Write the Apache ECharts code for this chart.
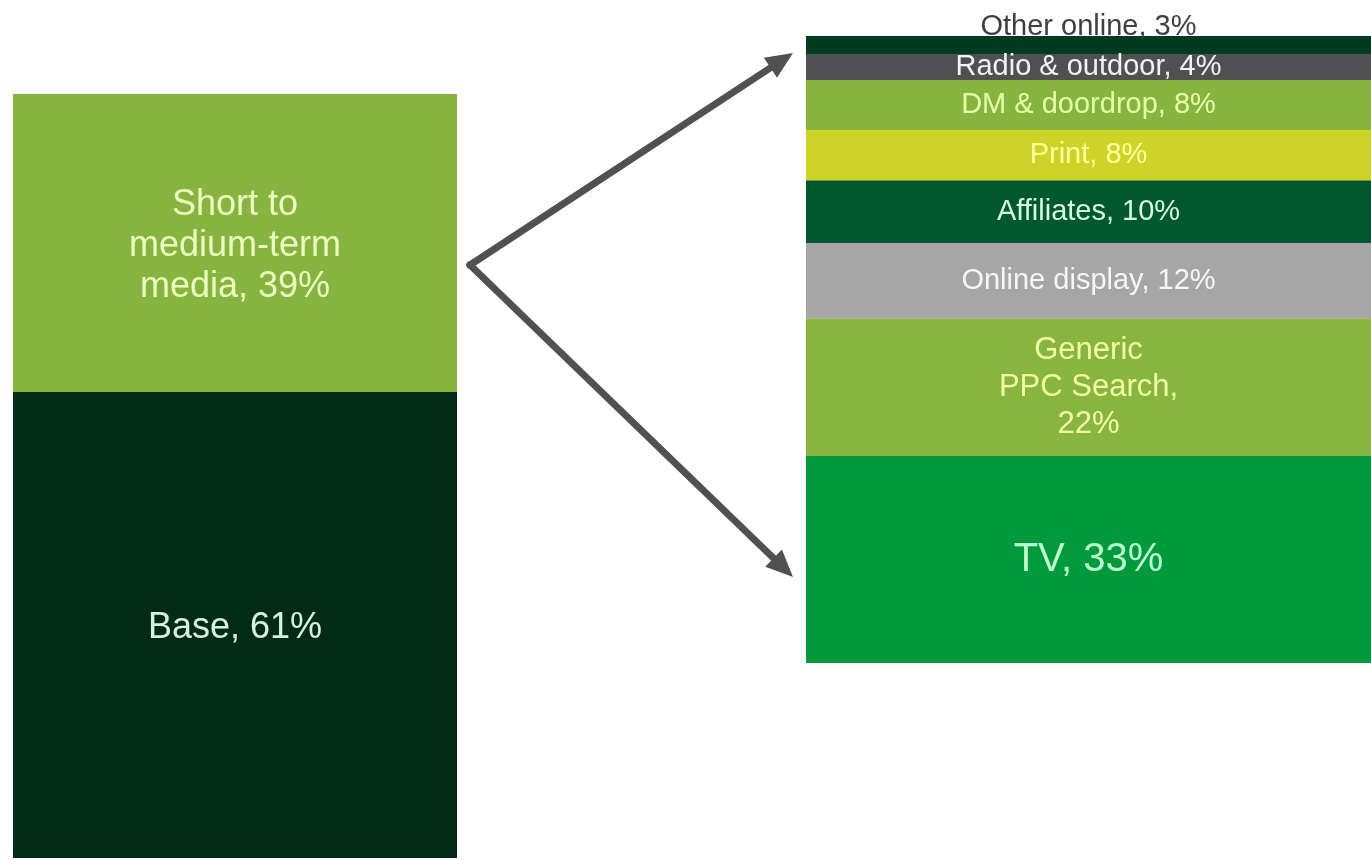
<!DOCTYPE html>
<html>
<head>
<meta charset="utf-8">
<title>Media spend split</title>
<script src="https://cdn.jsdelivr.net/npm/echarts@6/dist/echarts.min.js"></script>
<style>
  html, body { margin: 0; padding: 0; background: #ffffff; }
  #chart { width: 1371px; height: 860px; }
</style>
</head>
<body>
<div id="chart"></div>
<script>
// Total budget: base vs. short to medium-term media (bottom to top)
const totalNames = ['Base', 'Short to\nmedium-term\nmedia'];
const totalValues = [61, 39];

// Short to medium-term media split by channel (bottom to top)
const channelNames = ['TV', 'Generic\nPPC Search', 'Online display', 'Affiliates',
                      'Print', 'DM & doordrop', 'Radio & outdoor', 'Other online'];
const channelValues = [33, 22, 12, 10, 8, 8, 4, 3];
// separator between name and value in each channel label
const channelSeps = [', ', ',\n', ', ', ', ', ', ', ', ', ', ', ', '];

const FONT = '"Liberation Sans", Arial, sans-serif';

const totalStyle = [
  { fill: '#022a17', text: '#d6f2de' },
  { fill: '#87b440', text: '#ebffbe' }
];
const channelStyle = [
  { fill: '#00993b', text: '#baffcf', size: 40, lh: 46 },
  { fill: '#87b53f', text: '#f2ffa2', size: 31, lh: 37 },
  { fill: '#a6a6a6', text: '#f6f6f6', size: 29, lh: 30 },
  { fill: '#00582e', text: '#d8f8e2', size: 29, lh: 30 },
  { fill: '#cfd328', text: '#ffff9e', size: 29, lh: 30 },
  { fill: '#86b43e', text: '#e6ffaa', size: 29, lh: 30 },
  { fill: '#505052', text: '#f2f2f2', size: 29, lh: 30 },
  { fill: '#003a20', text: '#3f3f3f', size: 29, lh: 29 }
];

const series = [];

totalNames.forEach(function (name, i) {
  series.push({
    type: 'bar',
    name: name,
    stack: 'total',
    xAxisIndex: 0,
    yAxisIndex: 0,
    barWidth: '100%',
    data: [totalValues[i]],
    itemStyle: { color: totalStyle[i].fill },
    label: {
      show: true,
      position: 'inside',
      offset: [0, 3],
      fontFamily: FONT,
      fontSize: 36,
      lineHeight: 41,
      color: totalStyle[i].text,
      formatter: function (p) { return name + ', ' + p.value + '%'; }
    },
    emphasis: { disabled: true },
    silent: true
  });
});

channelNames.forEach(function (name, i) {
  const st = channelStyle[i];
  const last = i === channelNames.length - 1;
  series.push({
    type: 'bar',
    name: name,
    stack: 'channels',
    xAxisIndex: 1,
    yAxisIndex: 1,
    barWidth: '100%',
    data: [channelValues[i]],
    itemStyle: { color: st.fill },
    label: {
      show: true,
      position: last ? 'top' : 'inside',
      distance: last ? -5 : 5,
      fontFamily: FONT,
      fontSize: st.size,
      lineHeight: st.lh,
      color: st.text,
      formatter: function (p) { return name + channelSeps[i] + p.value + '%'; }
    },
    emphasis: { disabled: true },
    silent: true
  });
});

// Arrow geometry: shared tail at the right of the total bar, heads at the channel bar
const ARROW = {
  from: [470, 265],
  tips: [[793, 53], [793, 577]],
  width: 7,
  headLen: 27,
  headHalf: 12,
  color: '#515151'
};

function arrowElements(from, to) {
  const dx = to[0] - from[0], dy = to[1] - from[1];
  const len = Math.sqrt(dx * dx + dy * dy);
  const ux = dx / len, uy = dy / len;
  const bx = to[0] - ux * ARROW.headLen, by = to[1] - uy * ARROW.headLen;
  const nx = -uy, ny = ux;
  return [
    {
      type: 'polygon',
      shape: { points: [to, [bx + nx * ARROW.headHalf, by + ny * ARROW.headHalf],
                        [bx - nx * ARROW.headHalf, by - ny * ARROW.headHalf]] },
      style: { fill: ARROW.color },
      z: 100
    },
    {
      type: 'line',
      shape: { x1: from[0], y1: from[1], x2: bx + ux * 4, y2: by + uy * 4 },
      style: { stroke: ARROW.color, lineWidth: ARROW.width, lineCap: 'round' },
      z: 100
    }
  ];
}

const graphics = [];
ARROW.tips.forEach(function (t) { graphics.push.apply(graphics, arrowElements(ARROW.from, t)); });
// joint at the shared tail
graphics.push({
  type: 'circle',
  shape: { cx: ARROW.from[0], cy: ARROW.from[1], r: ARROW.width / 2 },
  style: { fill: ARROW.color },
  z: 100
});

const chart = echarts.init(document.getElementById('chart'), null, { renderer: 'canvas' });
chart.setOption({
  backgroundColor: '#ffffff',
  animation: false,
  grid: [
    { left: 13, top: 94, width: 444, height: 764 },
    { left: 806, top: 36, width: 565, height: 627 }
  ],
  xAxis: [
    { type: 'category', gridIndex: 0, data: ['Total'], show: false },
    { type: 'category', gridIndex: 1, data: ['Short to medium-term media'], show: false }
  ],
  yAxis: [
    { type: 'value', gridIndex: 0, min: 0, max: 100, show: false },
    { type: 'value', gridIndex: 1, min: 0, max: 100, show: false }
  ],
  series: series,
  graphic: graphics
});
</script>
</body>
</html>
